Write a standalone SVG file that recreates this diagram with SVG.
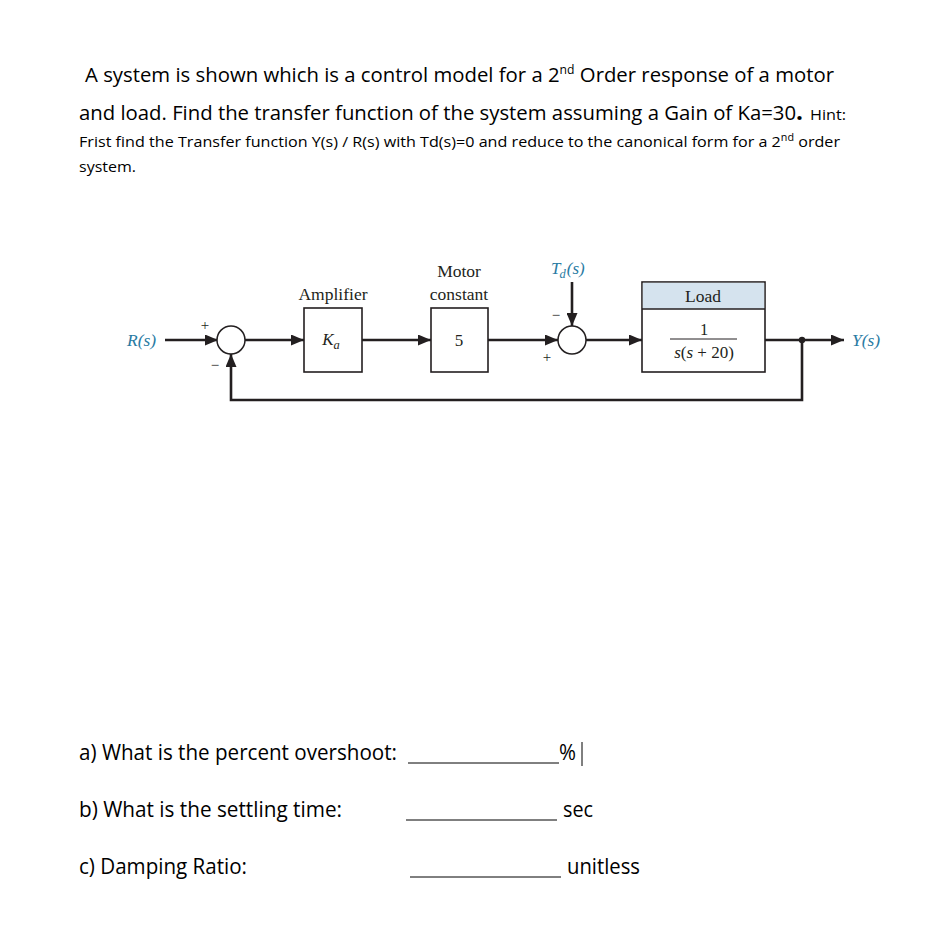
<svg xmlns="http://www.w3.org/2000/svg" width="946" height="941" viewBox="0 0 946 941">
<style>
.t{font-family:"Open Sans","Liberation Sans",sans-serif;fill:#000}
.d{font-family:"Liberation Serif","Times New Roman",serif;fill:#231f20}
.b{font-family:"Liberation Serif","Times New Roman",serif;fill:#2a7ba3;font-style:italic}
.ln{stroke:#231f20;stroke-width:2.6;fill:none}
.bx{stroke:#231f20;stroke-width:1.6;fill:#fff}
.ul{stroke:#000;stroke-width:1}
</style>
<defs>
<marker id="ah" markerUnits="userSpaceOnUse" markerWidth="13" markerHeight="11" refX="13" refY="5.5" orient="auto">
<path d="M0,0 L13,5.5 L0,11 z" fill="#231f20"/>
</marker>
</defs>
<rect width="946" height="941" fill="#fff"/>
<g id="question-text">
<text class="t" x="85" y="82" font-size="20" textLength="749" lengthAdjust="spacingAndGlyphs">A system is shown which is a control model for a 2<tspan font-size="12" dy="-8">nd</tspan><tspan dy="8"> Order response of a motor</tspan></text>
<text class="t" x="79" y="120" font-size="20" textLength="724" lengthAdjust="spacingAndGlyphs">and load. Find the transfer function of the system assuming a Gain of Ka=30<tspan font-weight="bold" font-size="24">.</tspan></text>
<text class="t" x="810" y="120" font-size="14" textLength="36" lengthAdjust="spacingAndGlyphs">Hint:</text>
<text class="t" x="79" y="147" font-size="15" textLength="761" lengthAdjust="spacingAndGlyphs">Frist find the Transfer function Y(s) / R(s) with Td(s)=0 and reduce to the canonical form for a 2<tspan font-size="10" dy="-6">nd</tspan><tspan dy="6"> order</tspan></text>
<text class="t" x="79" y="172" font-size="15" textLength="57" lengthAdjust="spacingAndGlyphs">system.</text>
</g>
<g id="connectors">
<path class="ln" d="M165,340 H218" marker-end="url(#ah)"/>
<path class="ln" d="M245,340 H304" marker-end="url(#ah)"/>
<path class="ln" d="M362,340 H431" marker-end="url(#ah)"/>
<path class="ln" d="M488,340 H558" marker-end="url(#ah)"/>
<path class="ln" d="M572,282 V326" marker-end="url(#ah)"/>
<path class="ln" d="M586,340 H642" marker-end="url(#ah)"/>
<path class="ln" d="M765,340 H844" marker-end="url(#ah)"/>
<path class="ln" d="M802,340 V400 H231 V354" marker-end="url(#ah)"/>
<circle cx="802" cy="340" r="3.2" fill="#231f20"/>
</g>
<g id="R">
<text class="b" x="127" y="346" font-size="17.5">R(s)</text>
</g>
<g id="sum1">
<circle cx="231" cy="340" r="14" fill="#fff" stroke="#231f20" stroke-width="1.5"/>
<text class="d" x="205" y="330" font-size="15" text-anchor="middle">+</text>
<text class="d" x="215" y="370" font-size="15" text-anchor="middle">−</text>
</g>
<g id="amplifier">
<text class="d" x="333" y="300" font-size="17.5" text-anchor="middle">Amplifier</text>
<rect class="bx" x="304" y="308" width="58" height="64"/>
<text class="d" x="331" y="345" font-size="17" text-anchor="middle" font-style="italic">K<tspan font-size="12.5" dy="4">a</tspan></text>
</g>
<g id="motor">
<text class="d" x="459" y="277" font-size="17.5" text-anchor="middle">Motor</text>
<text class="d" x="459" y="300" font-size="17.5" text-anchor="middle">constant</text>
<rect class="bx" x="431" y="308" width="57" height="64"/>
<text class="d" x="459" y="346" font-size="17" text-anchor="middle">5</text>
</g>
<g id="Td">
<text class="b" x="551" y="274" font-size="17">T<tspan font-size="12.5" dy="4" dx="-1">d</tspan><tspan dy="-4" dx="1">(s)</tspan></text>
</g>
<g id="sum2">
<circle cx="572" cy="340" r="14" fill="#fff" stroke="#231f20" stroke-width="1.5"/>
<text class="d" x="556" y="320" font-size="15" text-anchor="middle">−</text>
<text class="d" x="547" y="362" font-size="15" text-anchor="middle">+</text>
</g>
<g id="load">
<rect class="bx" x="642" y="282" width="123" height="90"/>
<rect x="642.8" y="282.8" width="121.4" height="26" fill="#d5e3ee"/>
<line x1="642" y1="309" x2="765" y2="309" stroke="#231f20" stroke-width="1.6"/>
<text class="d" x="703" y="302" font-size="17.5" text-anchor="middle">Load</text>
<text class="d" x="704" y="335" font-size="16.5" text-anchor="middle">1</text>
<line x1="670" y1="339" x2="737" y2="339" stroke="#231f20" stroke-width="1"/>
<text class="d" x="704" y="358" font-size="17" text-anchor="middle"><tspan font-style="italic">s</tspan>(<tspan font-style="italic">s</tspan> + 20)</text>
</g>
<g id="Y">
<text class="b" x="852" y="346" font-size="17.5">Y(s)</text>
</g>
<g id="answers">
<text class="t" x="79" y="760" font-size="21" textLength="318" lengthAdjust="spacingAndGlyphs">a) What is the percent overshoot:</text>
<line class="ul" x1="408" y1="763" x2="559" y2="763"/>
<text class="t" x="559" y="760" font-size="21" textLength="17" lengthAdjust="spacingAndGlyphs">%</text>
<line class="ul" x1="582" y1="742" x2="582" y2="766"/>
<text class="t" x="79" y="817" font-size="21" textLength="263" lengthAdjust="spacingAndGlyphs">b) What is the settling time:</text>
<line class="ul" x1="406" y1="820" x2="557" y2="820"/>
<text class="t" x="563" y="817" font-size="21" textLength="30" lengthAdjust="spacingAndGlyphs">sec</text>
<text class="t" x="79" y="874" font-size="21" textLength="168" lengthAdjust="spacingAndGlyphs">c) Damping Ratio:</text>
<line class="ul" x1="410" y1="877" x2="561" y2="877"/>
<text class="t" x="567" y="874" font-size="21" textLength="73" lengthAdjust="spacingAndGlyphs">unitless</text>
</g>
</svg>
